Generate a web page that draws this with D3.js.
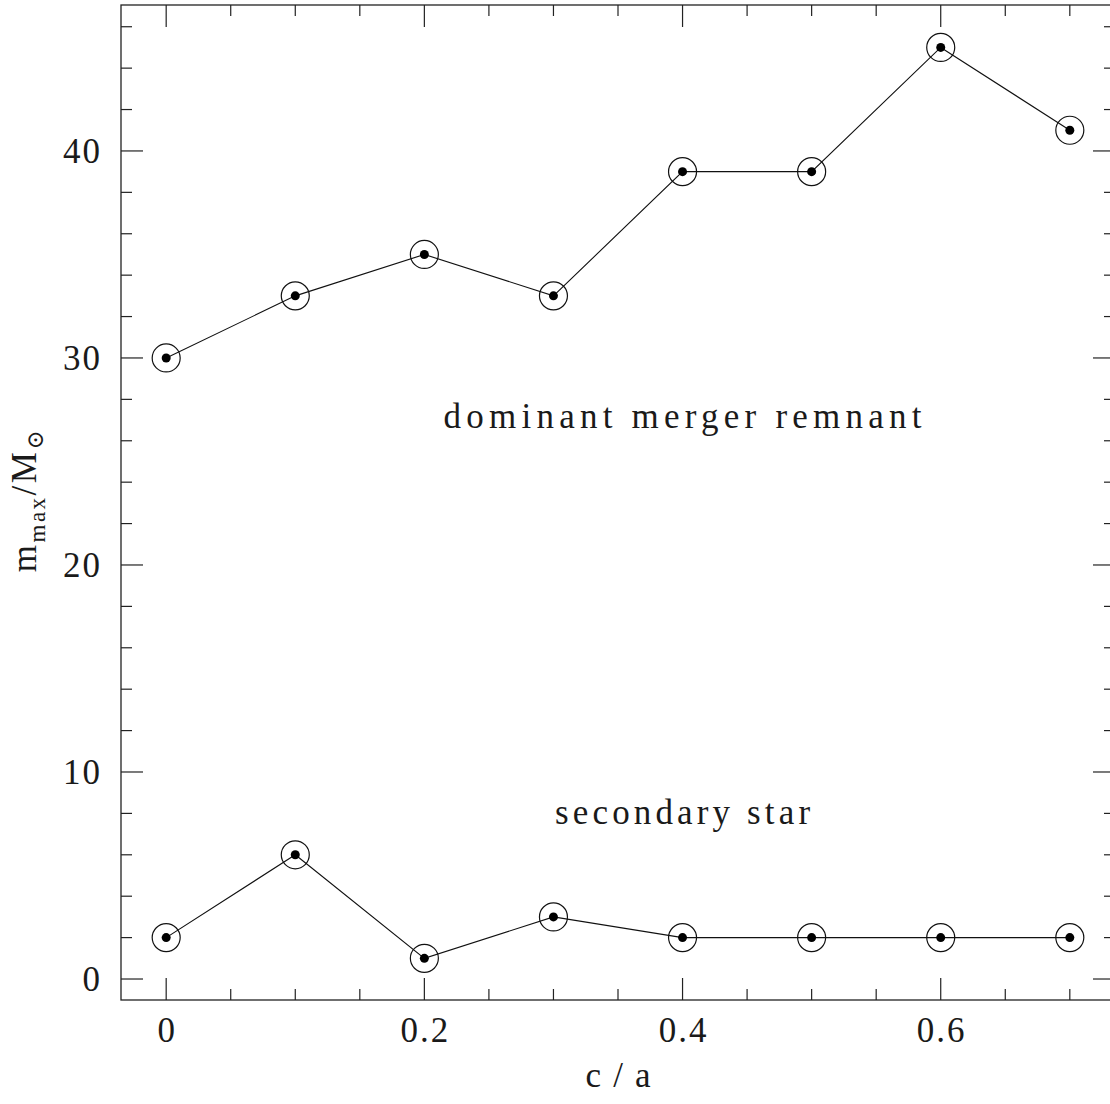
<!DOCTYPE html>
<html>
<head>
<meta charset="utf-8">
<script src="https://cdn.jsdelivr.net/npm/d3@7"></script>
<style>
  html, body { margin: 0; padding: 0; background: #fff; }
  svg { display: block; }
  text { font-family: "Liberation Serif", "DejaVu Serif", serif; fill: #1a1a1a; }
</style>
</head>
<body>
<svg id="chart" width="1110" height="1104"></svg>
<script>
// Axis ratio c/a for each simulation
const ratios = [0, 0.1, 0.2, 0.3, 0.4, 0.5, 0.6, 0.7];
// Mass of the most massive object (solar masses)
const dominantMass = [30, 33, 35, 33, 39, 39, 45, 41];
// Mass of the second most massive star (solar masses)
const secondaryMass = [2, 6, 1, 3, 2, 2, 2, 2];

const xTickLabels = [0, 0.2, 0.4, 0.6];
const yTickLabels = [0, 10, 20, 30, 40];

const seriesLabels = [
  { text: "dominant merger remnant", x: 0.4, y: 26.6, width: 478 },
  { text: "secondary star", x: 0.4, y: 7.5, width: 255 }
];

const svg = d3.select("#chart");
const plotL = 121, plotR = 1115, plotT = 5, plotB = 1000;

const x = d3.scaleLinear().domain([-0.035, 0.735]).range([plotL, plotR]);
const y = d3.scaleLinear().domain([-1.014, 47.05]).range([plotB, plotT]);

const ink = "#222";

// Ticks on all four sides, pointing inward
const xMinor = d3.range(0, 0.7501, 0.05).map(v => +v.toFixed(2));
const yMinor = d3.range(0, 47, 2);
const isXMajor = v => Math.abs(v / 0.2 - Math.round(v / 0.2)) < 1e-6;
const isYMajor = v => v % 10 === 0;

const ticks = svg.append("g").attr("stroke", ink).attr("stroke-width", 1.2);
xMinor.filter(v => x(v) <= plotR).forEach(v => {
  const len = isXMajor(v) ? 22 : 11;
  ticks.append("line").attr("x1", x(v)).attr("x2", x(v)).attr("y1", plotB).attr("y2", plotB - len);
  ticks.append("line").attr("x1", x(v)).attr("x2", x(v)).attr("y1", plotT).attr("y2", plotT + len);
});
yMinor.forEach(v => {
  const len = isYMajor(v) ? 22 : 11;
  ticks.append("line").attr("y1", y(v)).attr("y2", y(v)).attr("x1", plotL).attr("x2", plotL + len);
  ticks.append("line").attr("y1", y(v)).attr("y2", y(v)).attr("x1", plotR).attr("x2", plotR - len);
});

// Frame
svg.append("rect")
  .attr("x", plotL).attr("y", plotT)
  .attr("width", plotR - plotL).attr("height", plotB - plotT)
  .attr("fill", "none").attr("stroke", ink).attr("stroke-width", 1.3);

// Tick labels
svg.append("g").selectAll("text").data(xTickLabels).join("text")
  .attr("x", d => x(d) + 1)
  .attr("y", 1042)
  .attr("text-anchor", "middle")
  .attr("font-size", 35)
  .attr("letter-spacing", 2)
  .text(d => d);

svg.append("g").selectAll("text").data(yTickLabels).join("text")
  .attr("x", 102)
  .attr("y", d => y(d) + 12)
  .attr("text-anchor", "end")
  .attr("font-size", 35)
  .attr("letter-spacing", 2)
  .text(d => d);

// Axis titles
svg.append("text")
  .attr("x", x(0.35)).attr("y", 1087)
  .attr("text-anchor", "middle")
  .attr("font-size", 35)
  .attr("textLength", 65)
  .attr("lengthAdjust", "spacing")
  .text("c/a");

const yTitle = svg.append("text")
  .attr("transform", "translate(36,500) rotate(-90)")
  .attr("text-anchor", "middle")
  .attr("font-size", 35)
  .attr("letter-spacing", 2.5);
yTitle.append("tspan").text("m");
yTitle.append("tspan").attr("font-size", 23).attr("dy", 9).text("max");
yTitle.append("tspan").attr("dy", -9).text("/M");
yTitle.append("tspan").attr("font-size", 23).attr("dy", 7).text("\u2299");

// Series
const line = d3.line().x(d => x(d[0])).y(d => y(d[1]));
[dominantMass, secondaryMass].forEach(series => {
  const pts = ratios.map((r, i) => [r, series[i]]);
  const g = svg.append("g");
  g.append("path").datum(pts).attr("d", line)
    .attr("fill", "none").attr("stroke", "#111").attr("stroke-width", 1.1);
  g.selectAll("circle.ring").data(pts).join("circle")
    .attr("class", "ring")
    .attr("cx", d => x(d[0])).attr("cy", d => y(d[1])).attr("r", 14)
    .attr("fill", "none").attr("stroke", "#111").attr("stroke-width", 1.2);
  g.selectAll("circle.dot").data(pts).join("circle")
    .attr("class", "dot")
    .attr("cx", d => x(d[0])).attr("cy", d => y(d[1])).attr("r", 4.5)
    .attr("fill", "#000");
});

// Series labels
svg.append("g").selectAll("text").data(seriesLabels).join("text")
  .attr("x", d => x(d.x))
  .attr("y", d => y(d.y))
  .attr("text-anchor", "middle")
  .attr("font-size", 35)
  .attr("textLength", d => d.width)
  .attr("lengthAdjust", "spacing")
  .text(d => d.text);
</script>
</body>
</html>
